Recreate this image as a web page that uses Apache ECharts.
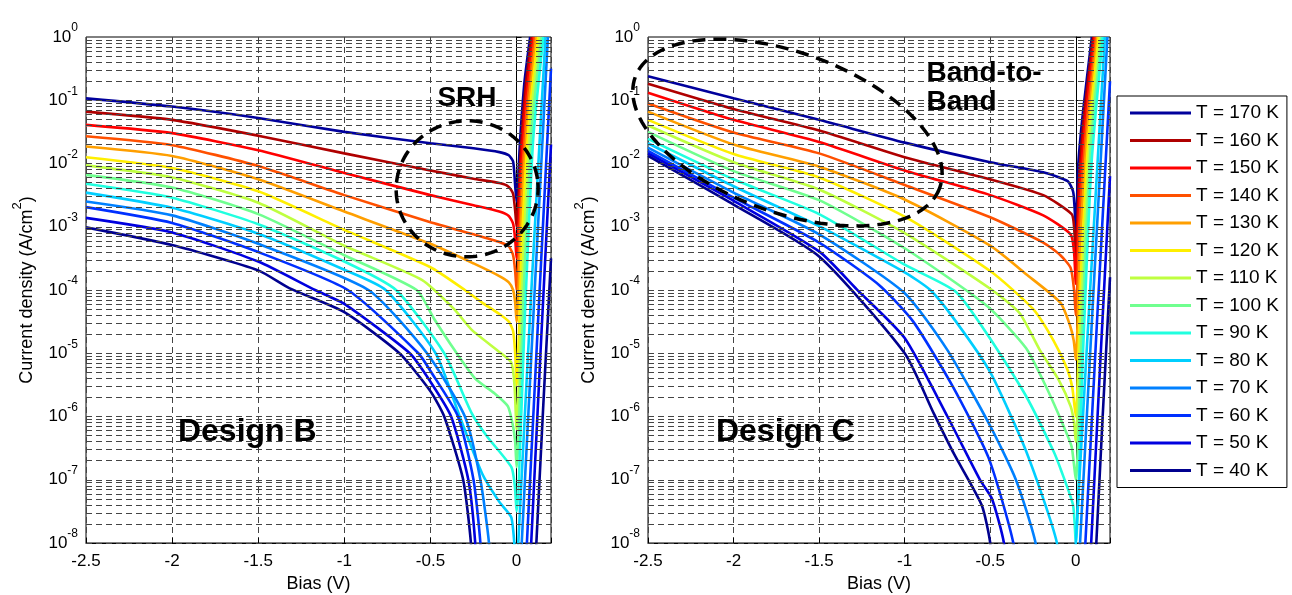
<!DOCTYPE html>
<html>
<head>
<meta charset="utf-8">
<script src="https://cdn.jsdelivr.net/npm/echarts@6/dist/echarts.min.js"></script>
<style>
html, body { margin: 0; padding: 0; background: #fff; }
#chart { width: 1292px; height: 595px; }
</style>
</head>
<body>
<div id="chart"></div>
<script>
// Temperatures of the curves (legend order) and their line colours
const temperatures = [170, 160, 150, 140, 130, 120, 110, 100, 90, 80, 70, 60, 50, 40];
const lineColors = ['#00009c', '#af0000', '#ff0000', '#ff5000', '#ff9f00', '#ffef00', '#bfff40',
                    '#70ff8f', '#20ffdf', '#00cfff', '#0080ff', '#0030ff', '#0000df', '#00008f'];

// Design B: [bias (V), log10 of current density (A/cm^2)]
const B170 = [[-2.5,-0.97],[-2.0,-1.10],[-1.5,-1.28],[-1.0,-1.50],[-0.5,-1.68],[-0.25,-1.76],[-0.1,-1.82],[-0.045,-1.87],[-0.02,-1.97],[-0.008,-2.35],[0,-2.6],[0.021,-1.61],[0.046,-0.71],[0.079,0.0]];
const B160 = [[-2.5,-1.18],[-2.0,-1.31],[-1.5,-1.56],[-1.0,-1.84],[-0.5,-2.11],[-0.25,-2.24],[-0.1,-2.31],[-0.045,-2.37],[-0.02,-2.48],[-0.008,-2.75],[0,-3.0],[0.025,-1.8],[0.052,-0.8],[0.088,0.0]];
const B150 = [[-2.5,-1.39],[-2.0,-1.52],[-1.5,-1.79],[-1.0,-2.15],[-0.5,-2.50],[-0.25,-2.66],[-0.1,-2.76],[-0.045,-2.83],[-0.02,-2.95],[-0.008,-3.2],[0,-3.5],[0.028,-2.0],[0.058,-0.9],[0.097,0.0]];
const B140 = [[-2.5,-1.57],[-2.0,-1.71],[-1.5,-2.04],[-1.0,-2.50],[-0.5,-2.93],[-0.25,-3.12],[-0.1,-3.24],[-0.045,-3.31],[-0.02,-3.45],[-0.008,-3.7],[0,-4.0],[0.03,-2.3],[0.064,-1.0],[0.106,0.0]];
const B130 = [[-2.5,-1.73],[-2.0,-1.88],[-1.5,-2.25],[-1.0,-2.76],[-0.5,-3.27],[-0.25,-3.58],[-0.1,-3.78],[-0.045,-3.88],[-0.02,-4.0],[-0.008,-4.2],[0,-4.5],[0.032,-2.6],[0.07,-1.1],[0.115,0.0]];
const B120 = [[-2.5,-1.90],[-2.0,-2.07],[-1.5,-2.44],[-1.0,-3.05],[-0.5,-3.64],[-0.3,-4.0],[-0.2,-4.2],[-0.1,-4.38],[-0.045,-4.5],[-0.02,-4.65],[-0.008,-5.0],[0,-5.5],[0.035,-3.0],[0.076,-1.2],[0.125,0.0]];
const B110 = [[-2.5,-2.03],[-2.0,-2.22],[-1.5,-2.62],[-1.0,-3.30],[-0.55,-3.84],[-0.36,-4.31],[-0.26,-4.63],[-0.09,-5.0],[-0.03,-5.15],[-0.012,-5.5],[0,-6.2],[0.04,-3.4],[0.082,-1.3],[0.135,0.0]];
const B100 = [[-2.5,-2.18],[-2.0,-2.38],[-1.5,-2.80],[-1.0,-3.45],[-0.58,-4.0],[-0.48,-4.45],[-0.36,-4.95],[-0.24,-5.4],[-0.13,-5.63],[-0.05,-5.84],[-0.02,-6.16],[-0.008,-6.4],[0,-6.8],[0.045,-3.8],[0.09,-1.4],[0.145,0.0]];
const B90  = [[-2.5,-2.32],[-2.0,-2.54],[-1.5,-2.96],[-1.0,-3.55],[-0.70,-4.0],[-0.42,-5.0],[-0.26,-5.95],[-0.17,-6.32],[-0.03,-6.8],[-0.01,-7.1],[0,-7.5],[0.05,-4.3],[0.097,-1.6],[0.156,0.0]];
const B80  = [[-2.5,-2.46],[-2.0,-2.70],[-1.5,-3.11],[-1.0,-3.68],[-0.76,-4.0],[-0.47,-5.0],[-0.33,-6.0],[-0.2,-6.9],[-0.1,-7.35],[-0.03,-7.6],[-0.005,-8.3],[0.004,-8.5],[0.01,-8.0],[0.09,-3.8],[0.168,0.0]];
const B70  = [[-2.5,-2.60],[-2.0,-2.82],[-1.5,-3.27],[-0.86,-4.0],[-0.52,-5.0],[-0.30,-6.0],[-0.21,-7.0],[-0.16,-8.0],[-0.14,-9.0],[0.02,-9.0],[0.03,-8.0],[0.182,0.0]];
const B60  = [[-2.5,-2.69],[-2.0,-2.94],[-1.5,-3.40],[-0.98,-4.0],[-0.57,-5.0],[-0.5,-5.28],[-0.34,-6.0],[-0.25,-7.0],[-0.21,-8.0],[-0.195,-9.0],[0.05,-9.0],[0.06,-8.0],[0.2,-0.5]];
const B50  = [[-2.5,-2.86],[-2.0,-3.09],[-1.5,-3.55],[-1.17,-4.0],[-1.0,-4.22],[-0.62,-5.0],[-0.5,-5.45],[-0.38,-6.0],[-0.28,-7.0],[-0.24,-8.0],[-0.225,-9.0],[0.08,-9.0],[0.085,-8.0],[0.2,-1.7]];
const B40  = [[-2.5,-3.01],[-2.0,-3.29],[-1.5,-3.69],[-1.32,-3.97],[-1.0,-4.35],[-0.68,-5.0],[-0.5,-5.6],[-0.42,-6.0],[-0.31,-7.0],[-0.265,-8.0],[-0.25,-9.0],[0.11,-9.0],[0.115,-8.0],[0.2,-3.5]];

// Design C: [bias (V), log10 of current density (A/cm^2)]
const C170 = [[-2.5,-0.62],[-2.0,-0.97],[-1.5,-1.31],[-1.0,-1.67],[-0.5,-1.98],[-0.19,-2.14],[-0.047,-2.28],[-0.015,-2.45],[-0.005,-2.8],[0,-3.1],[0.015,-2.0],[0.044,-1.14],[0.094,0.0]];
const C160 = [[-2.5,-0.74],[-2.0,-1.14],[-1.5,-1.48],[-1.0,-1.90],[-0.5,-2.25],[-0.19,-2.5],[-0.024,-2.8],[-0.01,-3.0],[0,-3.5],[0.018,-2.3],[0.05,-1.2],[0.102,0.0]];
const C150 = [[-2.5,-0.88],[-2.0,-1.31],[-1.5,-1.66],[-1.0,-2.11],[-0.5,-2.50],[-0.19,-2.82],[-0.03,-3.12],[-0.01,-3.4],[0,-3.9],[0.02,-2.6],[0.056,-1.3],[0.11,0.0]];
const C140 = [[-2.5,-1.05],[-2.0,-1.51],[-1.5,-1.84],[-1.0,-2.34],[-0.5,-2.85],[-0.19,-3.25],[-0.09,-3.45],[-0.03,-3.65],[-0.01,-4.0],[0,-4.4],[0.023,-2.9],[0.062,-1.4],[0.118,0.0]];
const C130 = [[-2.5,-1.18],[-2.0,-1.70],[-1.5,-2.05],[-1.0,-2.57],[-0.5,-3.30],[-0.29,-3.75],[-0.09,-4.2],[-0.035,-4.55],[-0.012,-4.8],[0,-5.1],[0.026,-3.3],[0.068,-1.5],[0.126,0.0]];
const C120 = [[-2.5,-1.31],[-2.0,-1.85],[-1.5,-2.22],[-1.0,-2.84],[-0.5,-3.70],[-0.25,-4.3],[-0.13,-4.8],[-0.05,-5.25],[-0.02,-5.55],[0,-6.0],[0.03,-3.8],[0.074,-1.6],[0.134,0.0]];
const C110 = [[-2.5,-1.40],[-2.0,-1.98],[-1.5,-2.41],[-1.0,-3.10],[-0.5,-3.98],[-0.33,-4.36],[-0.21,-4.95],[-0.10,-5.42],[-0.03,-5.84],[-0.01,-6.1],[0,-6.4],[0.034,-4.1],[0.08,-1.7],[0.142,0.0]];
const C100 = [[-2.5,-1.50],[-2.0,-2.12],[-1.5,-2.58],[-1.0,-3.34],[-0.52,-4.25],[-0.29,-4.92],[-0.17,-5.55],[-0.07,-6.16],[-0.024,-6.48],[0,-7.0],[0.038,-4.5],[0.086,-1.8],[0.15,0.0]];
const C90  = [[-2.5,-1.61],[-2.0,-2.25],[-1.5,-2.80],[-1.0,-3.60],[-0.70,-4.03],[-0.5,-4.77],[-0.29,-5.68],[-0.13,-6.55],[-0.086,-6.85],[-0.016,-7.4],[0,-8.0],[0.042,-5.0],[0.092,-2.0],[0.158,0.0]];
const C80  = [[-2.5,-1.68],[-2.0,-2.36],[-1.5,-2.99],[-1.0,-3.72],[-0.85,-4.0],[-0.70,-4.5],[-0.5,-5.3],[-0.29,-6.55],[-0.11,-8.0],[-0.09,-9.0],[-0.005,-9.0],[0.0,-8.0],[0.17,0.0]];
const C70  = [[-2.5,-1.75],[-2.0,-2.46],[-1.5,-3.12],[-1.0,-4.05],[-0.75,-4.95],[-0.5,-6.15],[-0.35,-7.0],[-0.235,-8.0],[-0.2,-9.0],[0.02,-9.0],[0.025,-8.0],[0.185,0.0]];
const C60  = [[-2.5,-1.80],[-2.0,-2.54],[-1.5,-3.25],[-1.15,-3.92],[-0.95,-4.5],[-0.72,-5.52],[-0.51,-6.65],[-0.365,-8.0],[-0.33,-9.0],[0.05,-9.0],[0.056,-8.0],[0.2,-0.7]];
const C50  = [[-2.5,-1.84],[-2.0,-2.59],[-1.5,-3.39],[-1.28,-3.99],[-1.0,-4.76],[-0.75,-6.0],[-0.56,-7.0],[-0.49,-7.3],[-0.42,-8.0],[-0.39,-9.0],[0.085,-9.0],[0.09,-8.0],[0.2,-2.2]];
const C40  = [[-2.5,-1.88],[-2.0,-2.65],[-1.5,-3.47],[-1.0,-5.0],[-0.83,-5.95],[-0.71,-6.6],[-0.55,-7.4],[-0.5,-8.0],[-0.47,-9.0],[0.115,-9.0],[0.12,-8.0],[0.2,-3.8]];

const designB = [B170, B160, B150, B140, B130, B120, B110, B100, B90, B80, B70, B60, B50, B40];
const designC = [C170, C160, C150, C140, C130, C120, C110, C100, C90, C80, C70, C60, C50, C40];

const FONT = '"Liberation Sans", Arial, Helvetica, sans-serif';
const seriesName = t => 'T = ' + t + ' K';

const chart = echarts.init(document.getElementById('chart'), null, { renderer: 'canvas' });

// horizontal grid lines of the log axis: every 1..9 x 10^n
const gridLevels = [];
for (let e = -8; e < 0; e++) {
  for (let m = 1; m <= 9; m++) gridLevels.push(Number((m * Math.pow(10, e)).toPrecision(3)));
}

const grids = [
  { left: 86, top: 37, width: 465, height: 506 },
  { left: 648, top: 37, width: 462, height: 506 }
];

function xAxisFor(g) {
  return {
    type: 'value', gridIndex: g, min: -2.5, max: 0.2, interval: 0.5,
    name: 'Bias (V)', nameLocation: 'middle', nameGap: 31,
    nameTextStyle: { fontFamily: FONT, fontSize: 18, color: '#000' },
    axisLine: { show: true, onZero: false, lineStyle: { color: '#000', width: 1 } },
    axisTick: { show: true, inside: true, length: 5, lineStyle: { color: '#000' } },
    axisLabel: {
      color: '#000', fontFamily: FONT, fontSize: 17, margin: 10,
      formatter: v => (Math.abs(v - 0.2) < 1e-6 ? '' : String(Number(v.toFixed(1))))
    },
    splitLine: { show: true, lineStyle: { color: '#444', type: [6, 4], width: 1 } }
  };
}

function yAxisFor(g) {
  return {
    type: 'log', logBase: 10, gridIndex: g, min: 1e-8, max: 1,
    name: '{n|Current density (A/cm}{s|2}{n|)}', nameLocation: 'middle', nameRotate: 90, nameGap: 50,
    nameTextStyle: {
      rich: {
        n: { fontFamily: FONT, fontSize: 18, color: '#000', lineHeight: 25, verticalAlign: 'bottom' },
        s: { fontFamily: FONT, fontSize: 13, color: '#000', lineHeight: 25, verticalAlign: 'top' }
      }
    },
    axisLine: { show: true, lineStyle: { color: '#000', width: 1 } },
    axisTick: { show: true, inside: true, length: 5, lineStyle: { color: '#000' } },
    axisLabel: {
      margin: 8,
      formatter: v => '{b|10}{s|' + Math.round(Math.log10(v)) + '}',
      rich: {
        b: { fontFamily: FONT, fontSize: 17, color: '#000', lineHeight: 30, verticalAlign: 'middle' },
        s: { fontFamily: FONT, fontSize: 12, color: '#000', lineHeight: 30, verticalAlign: 'top' }
      }
    },
    splitLine: { show: false }
  };
}

const series = [];
[designB, designC].forEach((curves, g) => {
  // dashed horizontal grid lines drawn through the y scale
  series.push({
    type: 'line', xAxisIndex: g, yAxisIndex: g, data: [], z: 1, silent: true,
    markLine: {
      silent: true, symbol: ['none', 'none'], animation: false, precision: 12, label: { show: false },
      lineStyle: { color: '#444', type: [6, 4], width: 1 },
      data: gridLevels.map(v => ({ yAxis: v }))
    }
  });
  curves.forEach((pts, i) => {
    series.push({
      type: 'line', name: seriesName(temperatures[i]), xAxisIndex: g, yAxisIndex: g,
      data: pts.map(p => [p[0], Math.pow(10, p[1])]),
      showSymbol: false, symbol: 'none', clip: true, silent: true, z: 3,
      smooth: 0.2,
      lineStyle: { width: 2.6, color: lineColors[i] },
      itemStyle: { color: lineColors[i] }
    });
  });
});

chart.setOption({
  animation: false,
  backgroundColor: '#fff',
  grid: grids.map(gr => Object.assign({
    show: true, borderColor: '#000', borderWidth: 1, backgroundColor: 'transparent',
    containLabel: false, outerBoundsMode: 'none'
  }, gr)),
  xAxis: [xAxisFor(0), xAxisFor(1)],
  yAxis: [yAxisFor(0), yAxisFor(1)],
  legend: {
    data: temperatures.map(seriesName), orient: 'vertical', left: 1117, top: 96,
    icon: 'rect', itemWidth: 61, itemHeight: 3, itemGap: 7.5,
    padding: [7, 8, 7, 13], borderColor: '#000', borderWidth: 1, backgroundColor: '#fff',
    selectedMode: false,
    textStyle: { fontFamily: FONT, fontSize: 19, lineHeight: 20, color: '#000' }
  },
  series: series
});

// annotations placed in data coordinates of each panel
function toPx(g, bias, logJ) {
  return chart.convertToPixel({ xAxisIndex: g, yAxisIndex: g }, [bias, Math.pow(10, logJ)]);
}
function ellipse(center, a, b, deg) {
  const r = deg * Math.PI / 180, pts = [];
  for (let k = 0; k <= 144; k++) {
    const t = 2 * Math.PI * k / 144, x = a * Math.cos(t), y = b * Math.sin(t);
    pts.push([center[0] + x * Math.cos(r) - y * Math.sin(r), center[1] + x * Math.sin(r) + y * Math.cos(r)]);
  }
  return pts;
}
const dashStyle = { stroke: '#000', fill: null, lineWidth: 3.5, lineDash: [13, 8] };
const boldText = (pos, text, size, align) => ({
  type: 'text', x: pos[0], y: pos[1], z: 20, silent: true,
  style: { text: text, fill: '#000', font: 'bold ' + size + 'px ' + FONT, align: align, verticalAlign: 'middle' }
});

chart.setOption({
  graphic: [
    { type: 'polyline', z: 20, silent: true, shape: { points: ellipse(toPx(0, -0.287, -2.40), 71, 68, -5) }, style: dashStyle },
    { type: 'polyline', z: 20, silent: true, shape: { points: ellipse(toPx(1, -1.685, -1.51), 162, 80, 20) }, style: dashStyle },
    boldText(toPx(0, -0.288, -0.964), 'SRH', 28, 'center'),
    boldText(toPx(1, -0.872, -0.57), 'Band-to-', 28, 'left'),
    boldText(toPx(1, -0.872, -1.04), 'Band', 28, 'left'),
    boldText(toPx(0, -1.966, -6.24), 'Design B', 32, 'left'),
    boldText(toPx(1, -2.103, -6.24), 'Design C', 32, 'left')
  ]
});
</script>
</body>
</html>
